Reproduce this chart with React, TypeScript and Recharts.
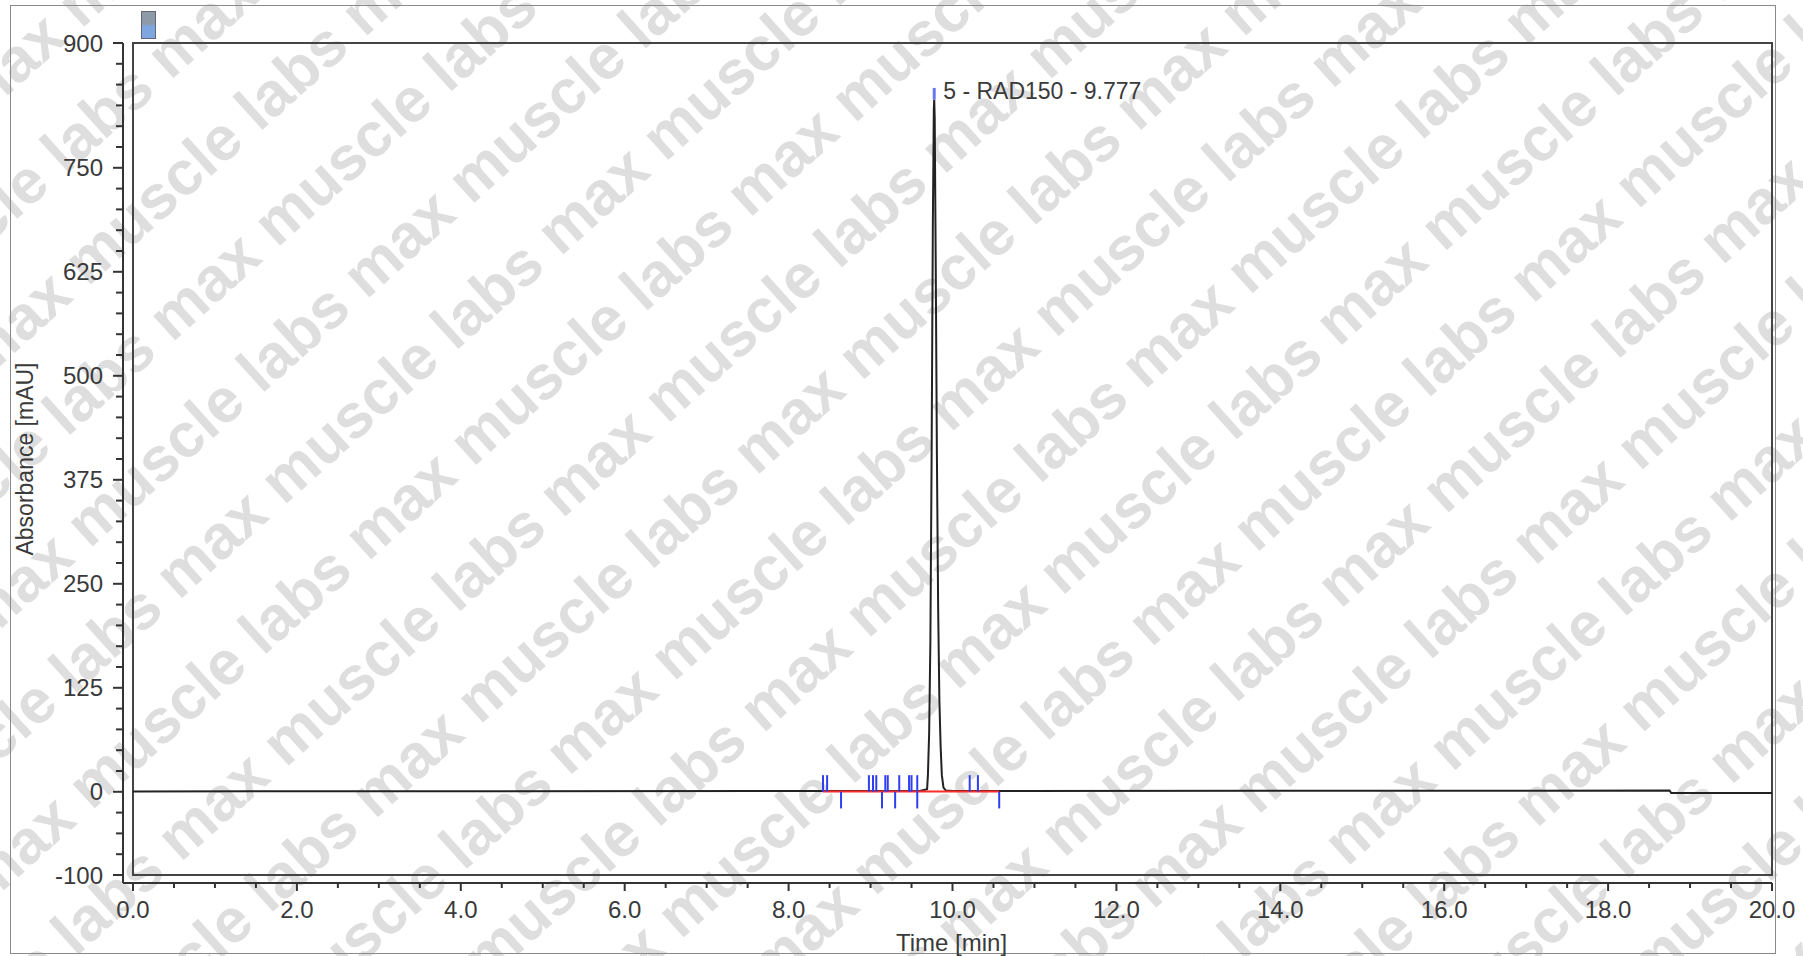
import React from 'react';
import { LineChart, Line, XAxis, YAxis, ReferenceArea, ReferenceLine, ReferenceDot } from 'recharts';

// chromatogram trace (time in min, absorbance in mAU)
const traceTime = [0, 8.4, 9.6, 9.69, 9.7, 9.715, 9.73, 9.745, 9.76, 9.772, 9.777, 9.783, 9.795, 9.81, 9.825, 9.84, 9.855, 9.87, 9.89, 9.92, 10.0, 18.75, 18.77, 20];
const traceAbs = [0.5, 1, 1, 3, 20, 70, 180, 400, 680, 820, 832, 810, 640, 400, 220, 110, 55, 20, 5, 1.5, 1, 1.5, -1.5, -1.5];

// integration marks
const upperMarks = [8.42, 8.47, 8.98, 9.03, 9.07, 9.18, 9.21, 9.35, 9.47, 9.5, 9.57, 10.21, 10.31];
const lowerMarks = [8.64, 9.14, 9.3, 9.57, 10.57];
const baselineStart = 8.42;
const baselineEnd = 10.57;

const peakTime = 9.777;
const peakTop = 846;
const peakLabel = '5 - RAD150 - 9.777';

const yMajor = [-100, 0, 125, 250, 375, 500, 625, 750, 900];
const yTicks = Array.from({ length: 41 }, (_, i) => -100 + i * 25);
const xTicks = Array.from({ length: 41 }, (_, i) => i * 0.5);

const data = traceTime.map((t, i) => ({ t, a: traceAbs[i] }));

const FONT = '"Liberation Sans", Arial, sans-serif';
const TXT = '#3a3a3a';
const WATERMARK = 'max muscle labs ';

const YTick = (props: any) => {
  const { x, y, payload } = props;
  const major = yMajor.includes(payload.value);
  return (
    <g>
      <line x1={x - (major ? 10 : 7)} x2={x} y1={y} y2={y} stroke="#333" strokeWidth={2} />
      {major && (
        <text x={x - 20} y={y} dy="0.36em" textAnchor="end" fontSize={24} fontFamily={FONT} fill={TXT}>
          {payload.value}
        </text>
      )}
    </g>
  );
};

const XTick = (props: any) => {
  const { x, y, payload } = props;
  const major = Math.abs(payload.value % 2) < 1e-6;
  return (
    <g>
      <line x1={x} x2={x} y1={y} y2={y + (major ? 8 : 5)} stroke="#333" strokeWidth={2} />
      {major && (
        <text x={x} y={y + 26} dy="0.36em" textAnchor="middle" fontSize={24} fontFamily={FONT} fill={TXT}>
          {payload.value.toFixed(1)}
        </text>
      )}
    </g>
  );
};

const Watermark = () => {
  const rows = [];
  for (let i = -14; i <= 14; i++) {
    rows.push(
      <text key={i} x={-1600 + ((i * 173) % 520)} y={478 + i * 98} fontSize={62} fontWeight="bold" fontFamily={FONT} fill="#dedede">
        {WATERMARK.repeat(13)}
      </text>
    );
  }
  return (
    <svg width={1803} height={956} style={{ position: 'absolute', left: 0, top: 0 }}>
      <g transform="rotate(-42 901 478)">{rows}</g>
    </svg>
  );
};

export default function App() {
  return (
    <div style={{ position: 'absolute', left: 0, top: 0, width: 1803, height: 956, background: '#fff', overflow: 'hidden' }}>
      <Watermark />
      <div style={{ position: 'absolute', left: 10, top: 5, width: 1766, height: 949, border: '1.5px solid #8a8a8a', boxSizing: 'border-box' }} />
      <div style={{ position: 'absolute', left: 141, top: 11, width: 13, height: 26, background: 'linear-gradient(#8d9aa8 0%, #8d9aa8 45%, #7fa6e0 55%, #7fa6e0 100%)', border: '1px solid #667' }} />
      <div style={{ position: 'absolute', left: 0, top: 0 }}>
        <LineChart width={1803} height={956} data={data} margin={{ top: 43, right: 31, bottom: 13, left: 0 }}>
          <XAxis
            dataKey="t"
            type="number"
            domain={[0, 20]}
            ticks={xTicks}
            interval={0}
            padding={{ left: 10, right: 0 }}
            height={60}
            tickSize={0}
            tickMargin={0}
            tickLine={false}
            tick={<XTick />}
            axisLine={{ stroke: '#333', strokeWidth: 2 }}
            label={(p: any) => {
              const vb = p.viewBox;
              return (
                <text x={vb.x + vb.width / 2 + 4} y={vb.y + 59} dy="0.36em" textAnchor="middle" fontSize={24} fontFamily={FONT} fill={TXT}>
                  Time [min]
                </text>
              );
            }}
          />
          <YAxis
            type="number"
            domain={[-100, 900]}
            ticks={yTicks}
            interval={0}
            padding={{ top: 0, bottom: 8 }}
            width={123}
            tickSize={0}
            tickMargin={0}
            tickLine={false}
            tick={<YTick />}
            axisLine={{ stroke: '#333', strokeWidth: 2 }}
            label={(p: any) => {
              const vb = p.viewBox;
              const cx = vb.x + 25;
              const cy = vb.y + vb.height / 2 - 4;
              return (
                <text x={cx} y={cy} dy="0.36em" textAnchor="middle" transform={`rotate(-90 ${cx} ${cy})`} fontSize={23} fontFamily={FONT} fill={TXT}>
                  Absorbance [mAU]
                </text>
              );
            }}
          />
          <ReferenceArea x1={0} x2={20} y1={-100} y2={900} fill="none" fillOpacity={0} stroke="#444" strokeWidth={2} />
          <Line type="linear" dataKey="a" stroke="#222" strokeWidth={2} dot={false} isAnimationActive={false} />
          <ReferenceLine segment={[{ x: baselineStart, y: 0.5 }, { x: baselineEnd, y: 0.5 }]} stroke="#ff2a2a" strokeWidth={2} />
          {upperMarks.map((t) => (
            <ReferenceLine key={'u' + t} segment={[{ x: t, y: 0 }, { x: t, y: 20 }]} stroke="#2f3ff0" strokeWidth={2} />
          ))}
          {lowerMarks.map((t) => (
            <ReferenceLine key={'l' + t} segment={[{ x: t, y: 0 }, { x: t, y: -20 }]} stroke="#2f3ff0" strokeWidth={2} />
          ))}
          <ReferenceLine segment={[{ x: peakTime, y: 832 }, { x: peakTime, y: peakTop }]} stroke="#6a78f0" strokeWidth={3} />
          <ReferenceDot
            x={peakTime}
            y={843}
            r={0}
            fill="none"
            stroke="none"
            label={{ value: peakLabel, position: 'right', offset: 9, fontSize: 23, fontFamily: FONT, fill: TXT }}
          />
        </LineChart>
      </div>
    </div>
  );
}
